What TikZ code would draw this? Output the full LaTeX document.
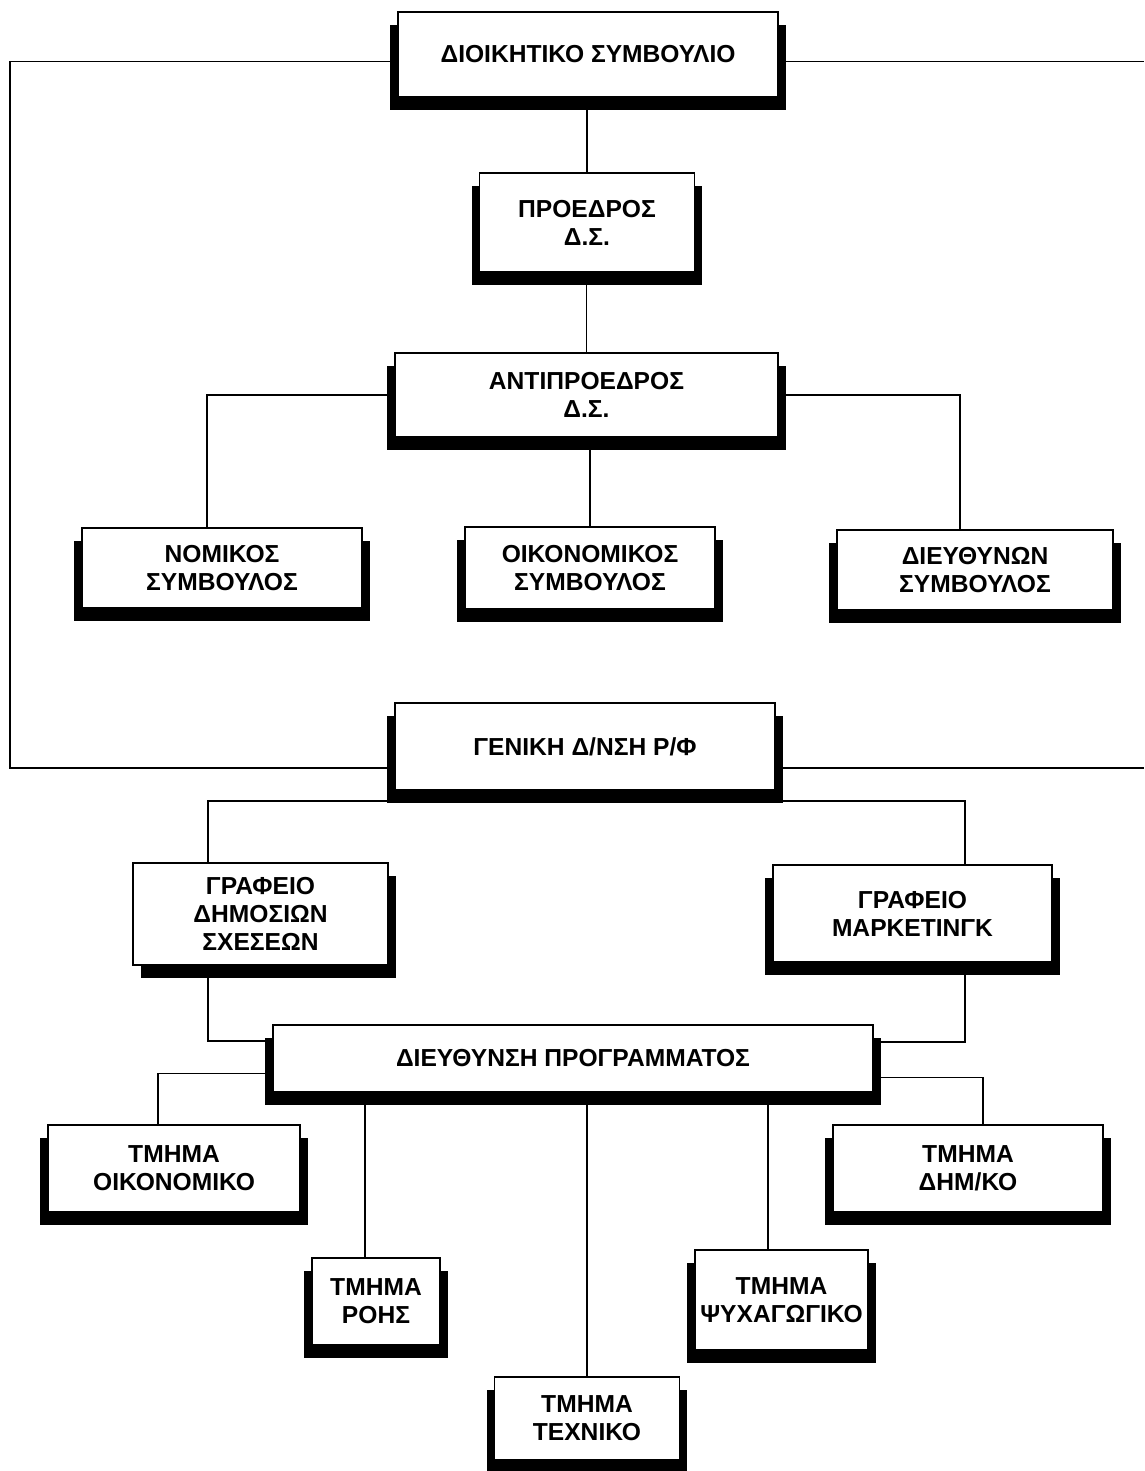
\documentclass[tikz,border=0pt]{standalone}
\usepackage{fontspec}
\setmainfont{Liberation Sans}
\tikzset{
	lshadow/.style={preaction={fill=black,transform canvas={xshift=-0.16cm,yshift=-0.26cm}}},
	rshadow/.style={preaction={fill=black,transform canvas={xshift=0.16cm,yshift=-0.26cm}}},
	orgbox/.style 2 args={draw,fill=white,line width=1pt,align=center,inner sep=1pt,font=\bfseries\fontsize{14}{16}\selectfont,minimum width=#1,minimum height=#2},
	sbox/.style 2 args={orgbox={#1}{#2},lshadow,rshadow}
}

\begin{document}
\begin{tikzpicture}[x=0.02cm,y=-0.02cm,line width=1pt]
	\useasboundingbox (0,0) rectangle (1144,1471);

	\node [sbox={7.6cm}{1.7cm}] (ds) at (588,54.5) {ΔΙΟΙΚΗΤΙΚΟ ΣΥΜΒΟΥΛΙΟ};
	\node [sbox={4.3cm}{1.98cm}] (pr) at (587,222.5) {ΠΡΟΕΔΡΟΣ\\Δ.Σ.};
	\node [sbox={7.66cm}{1.68cm}] (apr) at (586.5,395) {ΑΝΤΙΠΡΟΕΔΡΟΣ\\Δ.Σ.};
	\node [sbox={5.6cm}{1.6cm}] (nom) at (222,568) {ΝΟΜΙΚΟΣ\\ΣΥΜΒΟΥΛΟΣ};
	\node [sbox={5cm}{1.64cm}] (oik) at (590,568) {ΟΙΚΟΝΟΜΙΚΟΣ\\ΣΥΜΒΟΥΛΟΣ};
	\node [sbox={5.52cm}{1.6cm}] (dsym) at (975,570) {ΔΙΕΥΘΥΝΩΝ\\ΣΥΜΒΟΥΛΟΣ};
	\node [sbox={7.6cm}{1.74cm}] (gen) at (585,746.5) {ΓΕΝΙΚΗ Δ/ΝΣΗ Ρ/Φ};
	\node [orgbox={5.1cm}{2.04cm},rshadow] (gr1) at (260.5,914) {ΓΡΑΦΕΙΟ\\ΔΗΜΟΣΙΩΝ\\ΣΧΕΣΕΩΝ};
	\node [sbox={5.58cm}{1.94cm}] (gr2) at (912.5,913.5) {ΓΡΑΦΕΙΟ\\ΜΑΡΚΕΤΙΝΓΚ};
	\node [sbox={12cm}{1.34cm}] (dp) at (573,1058.5) {ΔΙΕΥΘΥΝΣΗ ΠΡΟΓΡΑΜΜΑΤΟΣ};
	\node [sbox={5.04cm}{1.74cm}] (to) at (174,1168.5) {ΤΜΗΜΑ\\ΟΙΚΟΝΟΜΙΚΟ};
	\node [sbox={5.4cm}{1.74cm}] (tdh) at (968,1168.5) {ΤΜΗΜΑ\\ΔΗΜ/ΚΟ};
	\node [sbox={2.56cm}{1.74cm}] (tro) at (376,1301.5) {ΤΜΗΜΑ\\ΡΟΗΣ};
	\node [sbox={3.46cm}{2cm}] (tps) at (781.5,1300) {ΤΜΗΜΑ\\ΨΥΧΑΓΩΓΙΚΟ};
	\node [sbox={3.7cm}{1.66cm}] (tte) at (587,1418.5) {ΤΜΗΜΑ\\ΤΕΧΝΙΚΟ};

	\coordinate (ledge) at (10,400);
	\coordinate (redge) at (1144,400);

	\draw (pr.north) |- (ds.south);
	\draw (apr.north) |- (pr.south);
	\draw ([xshift=-0.3cm]nom.north) |- (apr.west);
	\draw (oik.north) |- (apr.south);
	\draw ([xshift=-0.3cm]dsym.north) |- (apr.east);

	\draw ([yshift=-0.14cm]ds.west) -| (ledge) |- ([yshift=-0.43cm]gen.west);
	\draw ([yshift=-0.14cm]ds.east) -- ([yshift=-0.14cm]ds.east -| redge);
	\draw ([yshift=-0.43cm]gen.east) -- ([yshift=-0.43cm]gen.east -| redge);

	\draw ([xshift=-1.05cm]gr1.north) |- ([yshift=-0.2cm]gen.south) -| ([xshift=1.05cm]gr2.north);
	\draw ([xshift=-1.05cm]gr1.south) |- ([yshift=0.35cm]dp.west);
	\draw ([xshift=1.05cm]gr2.south) |- ([yshift=0.33cm]dp.east);

	\draw ([xshift=-0.32cm]to.north) |- ([yshift=-0.3cm]dp.west);
	\draw ([xshift=0.3cm]tdh.north) |- ([yshift=-0.38cm]dp.east);
	\draw ([xshift=-0.22cm]tro.north) -- ([xshift=-0.22cm]tro.north |- dp.south);
	\draw (tte.north) -- (tte.north |- dp.south);
	\draw ([xshift=-0.27cm]tps.north) -- ([xshift=-0.27cm]tps.north |- dp.south);
\end{tikzpicture}
\end{document}
